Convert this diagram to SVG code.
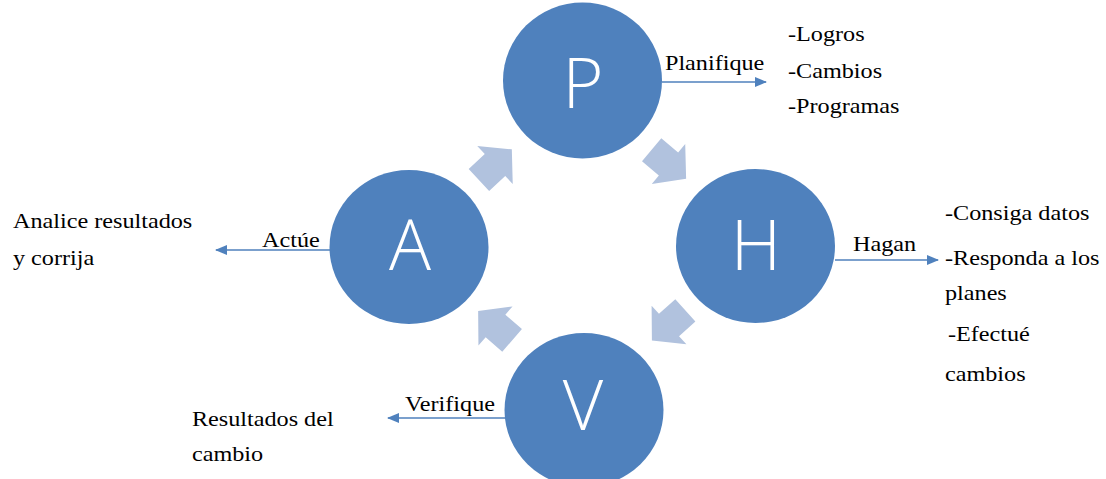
<svg xmlns="http://www.w3.org/2000/svg" width="1106" height="479" viewBox="0 0 1106 479">
<style>
.node{fill:#4F81BD}
.letter{fill:#FFFFFF;font-family:"Open Sans","Liberation Sans",sans-serif;font-weight:300;font-size:70px;text-anchor:middle}
.conn{stroke:#4F81BD;stroke-width:1.5;fill:none}
.blk{fill:#B1C2DE}
</style>
<defs>
<marker id="ah" viewBox="0 0 12 10" refX="11" refY="5" markerWidth="12" markerHeight="10" markerUnits="userSpaceOnUse" orient="auto">
<path d="M0,0 L12,5 L0,10 Z" fill="#4F81BD"/>
</marker>
<path id="blockArrow" d="M-22,-15 L0,-15 L0,-26 L23,0 L0,26 L0,15 L-22,15 Z"/>
</defs>
<rect width="1106" height="479" fill="#FFFFFF"/>
<g id="cycle-arrows">
<use href="#blockArrow" class="blk" transform="translate(668.5,164) rotate(40)"/>
<use href="#blockArrow" class="blk" transform="translate(669,325) rotate(138)"/>
<use href="#blockArrow" class="blk" transform="translate(495.5,326) rotate(-139)"/>
<use href="#blockArrow" class="blk" transform="translate(495,165) rotate(-43)"/>
</g>
<g id="connectors">
<line class="conn" x1="662" y1="82" x2="766" y2="82" marker-end="url(#ah)"/>
<line class="conn" x1="835" y1="260" x2="938" y2="260" marker-end="url(#ah)"/>
<line class="conn" x1="330" y1="250" x2="216" y2="250" marker-end="url(#ah)"/>
<line class="conn" x1="505" y1="418" x2="388" y2="418" marker-end="url(#ah)"/>
</g>
<g id="node-P">
<ellipse class="node" cx="582.5" cy="80.5" rx="79.5" ry="78"/>
<text class="letter" x="583" y="108">P</text>
</g>
<g id="node-H">
<ellipse class="node" cx="755.5" cy="246" rx="79.5" ry="77"/>
<text class="letter" x="756" y="270">H</text>
</g>
<g id="node-A">
<ellipse class="node" cx="409" cy="247" rx="79.5" ry="77"/>
<text class="letter" x="410" y="270">A</text>
</g>
<g id="node-V">
<ellipse class="node" cx="584" cy="410" rx="79.5" ry="77"/>
<text class="letter" x="583" y="430">V</text>
</g>
<g id="labels" transform="scale(1.1,1)" font-family="Liberation Serif, Times New Roman, serif" font-size="22" fill="#000000">
<text x="604.5" y="70">Planifique</text>
<text x="716.4" y="41.5">-Logros</text>
<text x="716.4" y="78">-Cambios</text>
<text x="716.4" y="113">-Programas</text>
<text x="775.5" y="251.5">Hagan</text>
<text x="859.1" y="220">-Consiga datos</text>
<text x="859.1" y="265">-Responda a los</text>
<text x="859.1" y="300">planes</text>
<text x="861.8" y="341.5">-Efectué</text>
<text x="859.1" y="381.5">cambios</text>
<text x="238.2" y="247">Actúe</text>
<text x="11.8" y="228">Analice resultados</text>
<text x="11.8" y="265">y corrija</text>
<text x="368.2" y="411.5">Verifique</text>
<text x="174.5" y="426.5">Resultados del</text>
<text x="174.5" y="461.5">cambio</text>
</g>
</svg>
